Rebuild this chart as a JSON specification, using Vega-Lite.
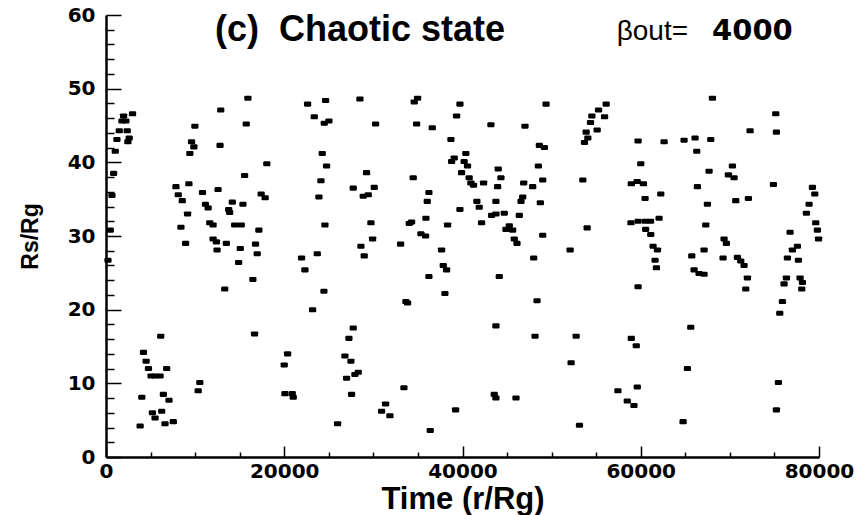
{
  "$schema": "https://vega.github.io/schema/vega-lite/v6.json",
  "width": 713,
  "height": 442,
  "autosize": {"type": "none"},
  "padding": {"left": 106, "top": 15, "right": 48, "bottom": 58},
  "background": "white",
  "title": {
    "text": "(c)\u00a0\u00a0Chaotic state",
    "anchor": "start",
    "frame": "group",
    "orient": "top",
    "dx": 109,
    "offset": -44,
    "font": "Liberation Sans",
    "fontSize": 36,
    "fontWeight": "bold",
    "color": "black"
  },
  "layer": [
    {
      "data": {
        "values": [
          {"t": 2976, "r": 46.6}, {"t": 1972, "r": 46.3}, {"t": 1786, "r": 45.6}, {"t": 2232, "r": 45.6},
          {"t": 1488, "r": 44.3}, {"t": 2380, "r": 44.3}, {"t": 1228, "r": 43.1}, {"t": 2604, "r": 43.3},
          {"t": 2455, "r": 42.8}, {"t": 1042, "r": 41.5}, {"t": 856, "r": 38.5}, {"t": 670, "r": 35.5},
          {"t": 484, "r": 30.8}, {"t": 223, "r": 26.7}, {"t": 15920, "r": 48.7}, {"t": 12870, "r": 47.1},
          {"t": 9970, "r": 44.9}, {"t": 9598, "r": 42.8}, {"t": 9858, "r": 42.1}, {"t": 9412, "r": 41.2},
          {"t": 12797, "r": 42.3}, {"t": 15736, "r": 45.2}, {"t": 18042, "r": 39.8}, {"t": 15550, "r": 38.2},
          {"t": 7849, "r": 36.7}, {"t": 9300, "r": 37.1}, {"t": 8110, "r": 35.6}, {"t": 8556, "r": 34.8},
          {"t": 10825, "r": 35.9}, {"t": 12573, "r": 36.3}, {"t": 11160, "r": 34.3}, {"t": 11458, "r": 33.8},
          {"t": 9150, "r": 33.0}, {"t": 14174, "r": 34.6}, {"t": 15364, "r": 34.3}, {"t": 13765, "r": 33.6},
          {"t": 13876, "r": 33.2}, {"t": 17410, "r": 35.7}, {"t": 17856, "r": 35.2}, {"t": 11644, "r": 31.8},
          {"t": 12016, "r": 31.5}, {"t": 14434, "r": 31.5}, {"t": 15178, "r": 31.5}, {"t": 8407, "r": 31.2},
          {"t": 17150, "r": 30.8}, {"t": 8928, "r": 29.0}, {"t": 12016, "r": 29.6}, {"t": 12388, "r": 29.2},
          {"t": 13504, "r": 29.0}, {"t": 12462, "r": 28.1}, {"t": 15066, "r": 28.3}, {"t": 16777, "r": 28.9},
          {"t": 16963, "r": 27.6}, {"t": 14880, "r": 26.4}, {"t": 16480, "r": 24.1}, {"t": 13318, "r": 22.8},
          {"t": 16666, "r": 16.7}, {"t": 6138, "r": 16.4}, {"t": 4204, "r": 14.2}, {"t": 4501, "r": 13.0},
          {"t": 4762, "r": 12.0}, {"t": 6808, "r": 12.0}, {"t": 5060, "r": 11.0}, {"t": 5506, "r": 11.0},
          {"t": 6064, "r": 11.0}, {"t": 6436, "r": 8.5}, {"t": 7068, "r": 7.7}, {"t": 4018, "r": 8.1},
          {"t": 10528, "r": 10.1}, {"t": 10342, "r": 9.0}, {"t": 5208, "r": 6.0}, {"t": 5506, "r": 5.3},
          {"t": 6250, "r": 6.2}, {"t": 6622, "r": 4.5}, {"t": 7552, "r": 4.8}, {"t": 3832, "r": 4.2},
          {"t": 22618, "r": 47.9}, {"t": 24638, "r": 48.4}, {"t": 28490, "r": 48.6}, {"t": 34960, "r": 48.7},
          {"t": 34586, "r": 48.2}, {"t": 39710, "r": 47.9}, {"t": 23366, "r": 46.2}, {"t": 24488, "r": 45.3},
          {"t": 25012, "r": 45.6}, {"t": 30248, "r": 45.2}, {"t": 34848, "r": 45.2}, {"t": 36606, "r": 44.7},
          {"t": 39336, "r": 46.3}, {"t": 38700, "r": 43.1}, {"t": 24264, "r": 41.2}, {"t": 24750, "r": 39.5},
          {"t": 29238, "r": 38.6}, {"t": 34474, "r": 37.9}, {"t": 39075, "r": 40.6}, {"t": 38775, "r": 40.1},
          {"t": 39897, "r": 38.6}, {"t": 24114, "r": 37.5}, {"t": 27742, "r": 36.5}, {"t": 30098, "r": 36.6},
          {"t": 28864, "r": 35.4}, {"t": 29425, "r": 35.6}, {"t": 36232, "r": 35.9}, {"t": 23890, "r": 35.3},
          {"t": 36045, "r": 34.7}, {"t": 39710, "r": 33.6}, {"t": 24563, "r": 31.5}, {"t": 29724, "r": 31.8},
          {"t": 34025, "r": 31.7}, {"t": 34287, "r": 31.9}, {"t": 35896, "r": 32.4}, {"t": 38326, "r": 31.5},
          {"t": 35334, "r": 30.3}, {"t": 35858, "r": 30.0}, {"t": 29911, "r": 29.6}, {"t": 28602, "r": 28.6},
          {"t": 28976, "r": 27.3}, {"t": 33053, "r": 28.9}, {"t": 23703, "r": 27.6}, {"t": 21945, "r": 27.0},
          {"t": 22319, "r": 25.4}, {"t": 37653, "r": 28.1}, {"t": 37840, "r": 26.0}, {"t": 38214, "r": 25.4},
          {"t": 36232, "r": 24.5}, {"t": 24451, "r": 22.5}, {"t": 38027, "r": 22.2}, {"t": 33651, "r": 21.1},
          {"t": 33838, "r": 20.9}, {"t": 23179, "r": 20.0}, {"t": 27742, "r": 17.5}, {"t": 27256, "r": 16.1},
          {"t": 20374, "r": 14.0}, {"t": 20000, "r": 12.5}, {"t": 26807, "r": 13.7}, {"t": 27480, "r": 13.0},
          {"t": 28303, "r": 11.5}, {"t": 27929, "r": 11.2}, {"t": 26994, "r": 10.7}, {"t": 27555, "r": 8.5},
          {"t": 20075, "r": 8.6}, {"t": 20898, "r": 8.6}, {"t": 21010, "r": 8.1}, {"t": 33427, "r": 9.4},
          {"t": 31370, "r": 7.2}, {"t": 30921, "r": 6.2}, {"t": 31856, "r": 5.6}, {"t": 25984, "r": 4.5},
          {"t": 36381, "r": 3.6}, {"t": 39224, "r": 6.4},
          {"t": 49375, "r": 47.9}, {"t": 43188, "r": 45.1}, {"t": 47012, "r": 44.9}, {"t": 56125, "r": 47.9},
          {"t": 55263, "r": 47.1}, {"t": 55938, "r": 46.2}, {"t": 54513, "r": 46.3}, {"t": 54363, "r": 45.4},
          {"t": 55113, "r": 44.4}, {"t": 53875, "r": 44.1}, {"t": 54063, "r": 43.3}, {"t": 53688, "r": 42.7},
          {"t": 59700, "r": 42.9}, {"t": 48625, "r": 42.3}, {"t": 49188, "r": 42.0}, {"t": 60000, "r": 39.8},
          {"t": 40375, "r": 41.2}, {"t": 40188, "r": 40.1}, {"t": 40563, "r": 39.5}, {"t": 40750, "r": 37.9},
          {"t": 40938, "r": 37.2}, {"t": 41238, "r": 36.9}, {"t": 42363, "r": 37.2}, {"t": 44013, "r": 39.1},
          {"t": 44313, "r": 37.9}, {"t": 43938, "r": 36.7}, {"t": 48513, "r": 39.5}, {"t": 49000, "r": 37.6},
          {"t": 46863, "r": 37.2}, {"t": 47875, "r": 36.7}, {"t": 53500, "r": 37.6}, {"t": 58938, "r": 37.1},
          {"t": 59600, "r": 37.4}, {"t": 60300, "r": 37.1}, {"t": 41613, "r": 34.7}, {"t": 41875, "r": 33.9},
          {"t": 43750, "r": 34.7}, {"t": 46750, "r": 35.3}, {"t": 46563, "r": 34.7}, {"t": 48738, "r": 34.5},
          {"t": 42138, "r": 31.8}, {"t": 43263, "r": 32.8}, {"t": 43750, "r": 33.0}, {"t": 44688, "r": 33.1},
          {"t": 46375, "r": 32.8}, {"t": 45250, "r": 31.4}, {"t": 44875, "r": 30.9}, {"t": 45625, "r": 30.8},
          {"t": 45813, "r": 29.6}, {"t": 46113, "r": 29.0}, {"t": 49000, "r": 30.1}, {"t": 53988, "r": 31.1},
          {"t": 58900, "r": 31.8}, {"t": 59700, "r": 32.0}, {"t": 60500, "r": 32.0}, {"t": 61100, "r": 32.0},
          {"t": 60550, "r": 30.9}, {"t": 52075, "r": 28.1}, {"t": 47988, "r": 27.0}, {"t": 44125, "r": 24.5},
          {"t": 59700, "r": 23.1}, {"t": 48363, "r": 21.2}, {"t": 43750, "r": 17.8}, {"t": 48138, "r": 16.4},
          {"t": 52750, "r": 16.4}, {"t": 58938, "r": 16.1}, {"t": 59500, "r": 15.1}, {"t": 52188, "r": 12.8},
          {"t": 57438, "r": 9.0}, {"t": 59613, "r": 9.5}, {"t": 58488, "r": 7.6}, {"t": 59238, "r": 7.0},
          {"t": 43563, "r": 8.5}, {"t": 43750, "r": 8.0}, {"t": 46000, "r": 8.0}, {"t": 53125, "r": 4.3},
          {"t": 68041, "r": 48.7}, {"t": 75147, "r": 46.6}, {"t": 72267, "r": 44.3}, {"t": 75222, "r": 44.1},
          {"t": 62618, "r": 42.8}, {"t": 64862, "r": 43.0}, {"t": 66096, "r": 43.3}, {"t": 67854, "r": 43.1},
          {"t": 66283, "r": 41.5}, {"t": 67667, "r": 38.8}, {"t": 70285, "r": 39.5}, {"t": 69836, "r": 38.3},
          {"t": 70472, "r": 37.9}, {"t": 66358, "r": 36.7}, {"t": 74885, "r": 37.0}, {"t": 79261, "r": 36.6},
          {"t": 79523, "r": 35.7}, {"t": 60486, "r": 35.1}, {"t": 62244, "r": 35.7}, {"t": 70659, "r": 34.8},
          {"t": 72080, "r": 35.1}, {"t": 67480, "r": 34.3}, {"t": 78887, "r": 34.3}, {"t": 78588, "r": 33.1},
          {"t": 62057, "r": 32.4}, {"t": 67293, "r": 31.5}, {"t": 79635, "r": 31.8}, {"t": 79822, "r": 30.8},
          {"t": 79950, "r": 29.6}, {"t": 61122, "r": 30.2}, {"t": 76755, "r": 30.5}, {"t": 69350, "r": 29.6},
          {"t": 69612, "r": 29.0}, {"t": 77577, "r": 28.6}, {"t": 77016, "r": 28.1}, {"t": 61384, "r": 28.6},
          {"t": 61870, "r": 28.1}, {"t": 67106, "r": 28.1}, {"t": 65722, "r": 27.3}, {"t": 69238, "r": 27.0},
          {"t": 70846, "r": 27.1}, {"t": 71220, "r": 26.6}, {"t": 71594, "r": 26.0}, {"t": 76456, "r": 27.0},
          {"t": 77690, "r": 26.7}, {"t": 61608, "r": 26.7}, {"t": 61758, "r": 25.7}, {"t": 65984, "r": 25.4},
          {"t": 66545, "r": 24.9}, {"t": 67106, "r": 24.8}, {"t": 71968, "r": 24.3}, {"t": 71781, "r": 22.8},
          {"t": 76343, "r": 24.3}, {"t": 76081, "r": 23.5}, {"t": 77877, "r": 24.3}, {"t": 78139, "r": 23.7},
          {"t": 78064, "r": 22.8}, {"t": 75895, "r": 21.1}, {"t": 75596, "r": 19.5}, {"t": 65610, "r": 17.6},
          {"t": 65236, "r": 12.0}, {"t": 75446, "r": 10.1}, {"t": 75222, "r": 6.4}, {"t": 64750, "r": 4.8}
        ]
      },
      "mark": {
        "type": "point",
        "filled": true,
        "shape": "M-0.8,-0.7L0.8,-0.7L1,-0.45L1,0.45L0.8,0.7L-0.8,0.7L-1,0.45L-1,-0.45Z",
        "size": 52,
        "color": "black",
        "opacity": 1,
        "strokeWidth": 0
      },
      "encoding": {
        "x": {
          "field": "t",
          "type": "quantitative",
          "scale": {"domain": [0, 80000], "nice": false, "zero": false},
          "axis": {
            "title": "Time (r/Rg)",
            "values": [0, 5000, 10000, 15000, 20000, 25000, 30000, 35000, 40000, 45000, 50000, 55000, 60000, 65000, 70000, 75000, 80000],
            "labelExpr": "datum.value % 20000 === 0 ? format(datum.value, 'd') : ''",
            "grid": false,
            "domainColor": "black",
            "domainWidth": 2.5,
            "tickColor": "black",
            "tickWidth": 1.5,
            "tickSize": {"condition": {"test": "datum.value % 20000 === 0", "value": -11}, "value": -5},
            "labelFont": "DejaVu Sans",
            "labelFontWeight": "bold",
            "labelFontSize": 20,
            "labelColor": "black",
            "labelPadding": 15,
            "labelFlush": false,
            "labelOverlap": false,
            "titleFont": "Liberation Sans",
            "titleFontSize": 31,
            "titleFontWeight": "bold",
            "titleColor": "black",
            "titlePadding": -3
          }
        },
        "y": {
          "field": "r",
          "type": "quantitative",
          "scale": {"domain": [0, 60], "nice": false},
          "axis": {
            "title": "Rs/Rg",
            "values": [0, 2, 4, 6, 8, 10, 12, 14, 16, 18, 20, 22, 24, 26, 28, 30, 32, 34, 36, 38, 40, 42, 44, 46, 48, 50, 52, 54, 56, 58, 60],
            "labelExpr": "datum.value % 10 === 0 ? format(datum.value, 'd') : ''",
            "grid": false,
            "domainColor": "black",
            "domainWidth": 2.5,
            "tickColor": "black",
            "tickWidth": 1.5,
            "tickSize": {"condition": {"test": "datum.value % 10 === 0", "value": -15}, "value": -8},
            "labelFont": "DejaVu Sans",
            "labelFontWeight": "bold",
            "labelFontSize": 20,
            "labelColor": "black",
            "labelPadding": 26,
            "labelFlush": false,
            "labelOverlap": false,
            "titleFont": "Liberation Sans",
            "titleFontSize": 23,
            "titleFontWeight": "bold",
            "titleColor": "black",
            "titlePadding": 25
          }
        }
      }
    },
    {
      "data": {"values": [{"label": "βout="}]},
      "mark": {
        "type": "text",
        "align": "left",
        "baseline": "alphabetic",
        "font": "Liberation Sans",
        "fontSize": 28,
        "fontWeight": "normal",
        "color": "black"
      },
      "encoding": {
        "x": {
          "datum": 57300,
          "type": "quantitative",
          "scale": {"domain": [0, 80000], "nice": false, "zero": false},
          "axis": {
            "title": "Time (r/Rg)",
            "values": [0, 5000, 10000, 15000, 20000, 25000, 30000, 35000, 40000, 45000, 50000, 55000, 60000, 65000, 70000, 75000, 80000],
            "labelExpr": "datum.value % 20000 === 0 ? format(datum.value, 'd') : ''",
            "grid": false,
            "domainColor": "black",
            "domainWidth": 2.5,
            "tickColor": "black",
            "tickWidth": 1.5,
            "tickSize": {"condition": {"test": "datum.value % 20000 === 0", "value": -11}, "value": -5},
            "labelFont": "DejaVu Sans",
            "labelFontWeight": "bold",
            "labelFontSize": 20,
            "labelColor": "black",
            "labelPadding": 15,
            "labelFlush": false,
            "labelOverlap": false,
            "titleFont": "Liberation Sans",
            "titleFontSize": 31,
            "titleFontWeight": "bold",
            "titleColor": "black",
            "titlePadding": -3
          }
        },
        "y": {
          "datum": 56.6,
          "type": "quantitative",
          "scale": {"domain": [0, 60], "nice": false},
          "axis": {
            "title": "Rs/Rg",
            "values": [0, 2, 4, 6, 8, 10, 12, 14, 16, 18, 20, 22, 24, 26, 28, 30, 32, 34, 36, 38, 40, 42, 44, 46, 48, 50, 52, 54, 56, 58, 60],
            "labelExpr": "datum.value % 10 === 0 ? format(datum.value, 'd') : ''",
            "grid": false,
            "domainColor": "black",
            "domainWidth": 2.5,
            "tickColor": "black",
            "tickWidth": 1.5,
            "tickSize": {"condition": {"test": "datum.value % 10 === 0", "value": -15}, "value": -8},
            "labelFont": "DejaVu Sans",
            "labelFontWeight": "bold",
            "labelFontSize": 20,
            "labelColor": "black",
            "labelPadding": 26,
            "labelFlush": false,
            "labelOverlap": false,
            "titleFont": "Liberation Sans",
            "titleFontSize": 23,
            "titleFontWeight": "bold",
            "titleColor": "black",
            "titlePadding": 25
          }
        },
        "text": {"field": "label"}
      }
    },
    {
      "data": {"values": [{"label": "4000"}]},
      "mark": {
        "type": "text",
        "align": "left",
        "baseline": "alphabetic",
        "font": "DejaVu Sans",
        "fontSize": 29,
        "fontWeight": "bold",
        "color": "black"
      },
      "encoding": {
        "x": {
          "datum": 68000,
          "type": "quantitative",
          "scale": {"domain": [0, 80000], "nice": false, "zero": false},
          "axis": {
            "title": "Time (r/Rg)",
            "values": [0, 5000, 10000, 15000, 20000, 25000, 30000, 35000, 40000, 45000, 50000, 55000, 60000, 65000, 70000, 75000, 80000],
            "labelExpr": "datum.value % 20000 === 0 ? format(datum.value, 'd') : ''",
            "grid": false,
            "domainColor": "black",
            "domainWidth": 2.5,
            "tickColor": "black",
            "tickWidth": 1.5,
            "tickSize": {"condition": {"test": "datum.value % 20000 === 0", "value": -11}, "value": -5},
            "labelFont": "DejaVu Sans",
            "labelFontWeight": "bold",
            "labelFontSize": 20,
            "labelColor": "black",
            "labelPadding": 15,
            "labelFlush": false,
            "labelOverlap": false,
            "titleFont": "Liberation Sans",
            "titleFontSize": 31,
            "titleFontWeight": "bold",
            "titleColor": "black",
            "titlePadding": -3
          }
        },
        "y": {
          "datum": 56.6,
          "type": "quantitative",
          "scale": {"domain": [0, 60], "nice": false},
          "axis": {
            "title": "Rs/Rg",
            "values": [0, 2, 4, 6, 8, 10, 12, 14, 16, 18, 20, 22, 24, 26, 28, 30, 32, 34, 36, 38, 40, 42, 44, 46, 48, 50, 52, 54, 56, 58, 60],
            "labelExpr": "datum.value % 10 === 0 ? format(datum.value, 'd') : ''",
            "grid": false,
            "domainColor": "black",
            "domainWidth": 2.5,
            "tickColor": "black",
            "tickWidth": 1.5,
            "tickSize": {"condition": {"test": "datum.value % 10 === 0", "value": -15}, "value": -8},
            "labelFont": "DejaVu Sans",
            "labelFontWeight": "bold",
            "labelFontSize": 20,
            "labelColor": "black",
            "labelPadding": 26,
            "labelFlush": false,
            "labelOverlap": false,
            "titleFont": "Liberation Sans",
            "titleFontSize": 23,
            "titleFontWeight": "bold",
            "titleColor": "black",
            "titlePadding": 25
          }
        },
        "text": {"field": "label"}
      }
    }
  ],
  "config": {"view": {"stroke": null}}
}
